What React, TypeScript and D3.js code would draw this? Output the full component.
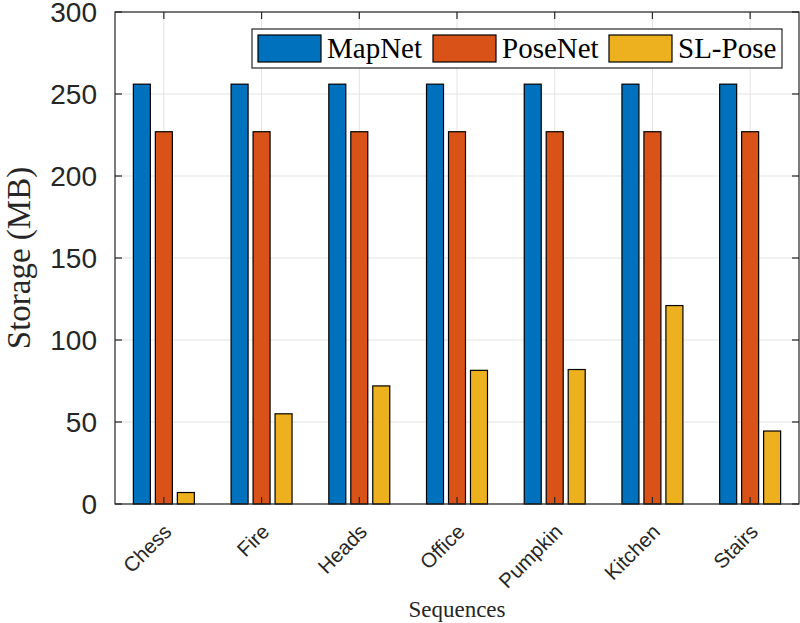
import React, { useRef, useEffect } from "react";
import * as d3 from "d3";

const categories = ["Chess", "Fire", "Heads", "Office", "Pumpkin", "Kitchen", "Stairs"];
const seriesNames = ["MapNet", "PoseNet", "SL-Pose"];
const mapNet = [256, 256, 256, 256, 256, 256, 256];
const poseNet = [227, 227, 227, 227, 227, 227, 227];
const slPose = [7, 55, 72, 81.5, 82, 121, 44.5];
const yTicks = [0, 50, 100, 150, 200, 250, 300];
const colors = ["#0072BD", "#D95319", "#EDB120"];

const App = () => {
  const ref = useRef<SVGSVGElement>(null);

  useEffect(() => {
    const svg = d3.select(ref.current);
    svg.selectAll("*").remove();

    const W = 800;
    const H = 623;
    const left = 115, right = 799, top = 12, bottom = 504;
    svg.attr("width", W).attr("height", H);

    const x = d3.scaleLinear().domain([0.5, categories.length + 0.5]).range([left, right]);
    const y = d3.scaleLinear().domain([0, 300]).range([bottom, top]);
    const series = [mapNet, poseNet, slPose];
    const barW = 0.174;
    const pitch = 0.225;
    const axisColor = "#262626";
    const serif = "'Liberation Serif', 'Times New Roman', serif";
    const sans = "'Liberation Sans', Arial, sans-serif";

    svg.append("rect").attr("width", W).attr("height", H).attr("fill", "#fff");

    // grid
    const grid = svg.append("g").attr("stroke", "#e3e3e3").attr("stroke-width", 1);
    yTicks.forEach((t) => {
      grid.append("line").attr("x1", left).attr("x2", right).attr("y1", y(t)).attr("y2", y(t));
    });
    categories.forEach((_, i) => {
      grid.append("line").attr("x1", x(i + 1)).attr("x2", x(i + 1)).attr("y1", top).attr("y2", bottom);
    });

    // bars
    series.forEach((vals, s) => {
      svg
        .append("g")
        .selectAll("rect")
        .data(vals)
        .enter()
        .append("rect")
        .attr("x", (d, i) => x(i + 1 + (s - 1) * pitch - barW / 2))
        .attr("width", x(barW) - x(0))
        .attr("y", (d) => y(d))
        .attr("height", (d) => y(0) - y(d))
        .attr("fill", colors[s])
        .attr("stroke", "#000")
        .attr("stroke-width", 1.2);
    });

    // axes box and ticks
    const ax = svg.append("g").attr("stroke", axisColor).attr("stroke-width", 1.2).attr("fill", "none");
    ax.append("rect").attr("x", left).attr("y", top).attr("width", right - left).attr("height", bottom - top);
    const tl = 7;
    yTicks.forEach((t) => {
      ax.append("line").attr("x1", left).attr("x2", left + tl).attr("y1", y(t)).attr("y2", y(t));
      ax.append("line").attr("x1", right).attr("x2", right - tl).attr("y1", y(t)).attr("y2", y(t));
    });
    categories.forEach((_, i) => {
      ax.append("line").attr("x1", x(i + 1)).attr("x2", x(i + 1)).attr("y1", bottom).attr("y2", bottom - tl);
      ax.append("line").attr("x1", x(i + 1)).attr("x2", x(i + 1)).attr("y1", top).attr("y2", top + tl);
    });

    // y tick labels
    svg
      .append("g")
      .selectAll("text")
      .data(yTicks)
      .enter()
      .append("text")
      .attr("x", 97)
      .attr("y", (d) => y(d))
      .attr("dy", "0.36em")
      .attr("text-anchor", "end")
      .attr("font-family", sans)
      .attr("font-size", 28)
      .attr("fill", axisColor)
      .text((d) => d);

    // x tick labels
    svg
      .append("g")
      .selectAll("text")
      .data(categories)
      .enter()
      .append("text")
      .attr("transform", (d, i) => `translate(${x(i + 1) + 9},${bottom + 29}) rotate(-45)`)
      .attr("text-anchor", "end")
      .attr("font-family", sans)
      .attr("font-size", 20.5)
      .attr("fill", axisColor)
      .text((d) => d);

    // axis labels
    svg
      .append("text")
      .attr("transform", `translate(30,${(top + bottom) / 2}) rotate(-90)`)
      .attr("text-anchor", "middle")
      .attr("font-family", serif)
      .attr("font-size", 33)
      .attr("fill", axisColor)
      .text("Storage (MB)");
    svg
      .append("text")
      .attr("x", (left + right) / 2)
      .attr("y", 617)
      .attr("text-anchor", "middle")
      .attr("font-family", serif)
      .attr("font-size", 23)
      .attr("fill", axisColor)
      .text("Sequences");

    // legend
    const lg = svg.append("g");
    lg.append("rect")
      .attr("x", 252)
      .attr("y", 29)
      .attr("width", 530)
      .attr("height", 39)
      .attr("fill", "#fff")
      .attr("stroke", axisColor)
      .attr("stroke-width", 1.2);
    const itemX = [258, 433, 609];
    seriesNames.forEach((name, s) => {
      lg.append("rect")
        .attr("x", itemX[s])
        .attr("y", 35)
        .attr("width", 63)
        .attr("height", 27)
        .attr("fill", colors[s])
        .attr("stroke", "#000")
        .attr("stroke-width", 1.2);
      lg.append("text")
        .attr("x", itemX[s] + 69)
        .attr("y", 58)
        .attr("font-family", serif)
        .attr("font-size", 29)
        .attr("fill", "#000")
        .text(name);
    });
  }, []);

  return <svg ref={ref} style={{ position: "fixed", left: 0, top: 0, display: "block" }} />;
};

export default App;
